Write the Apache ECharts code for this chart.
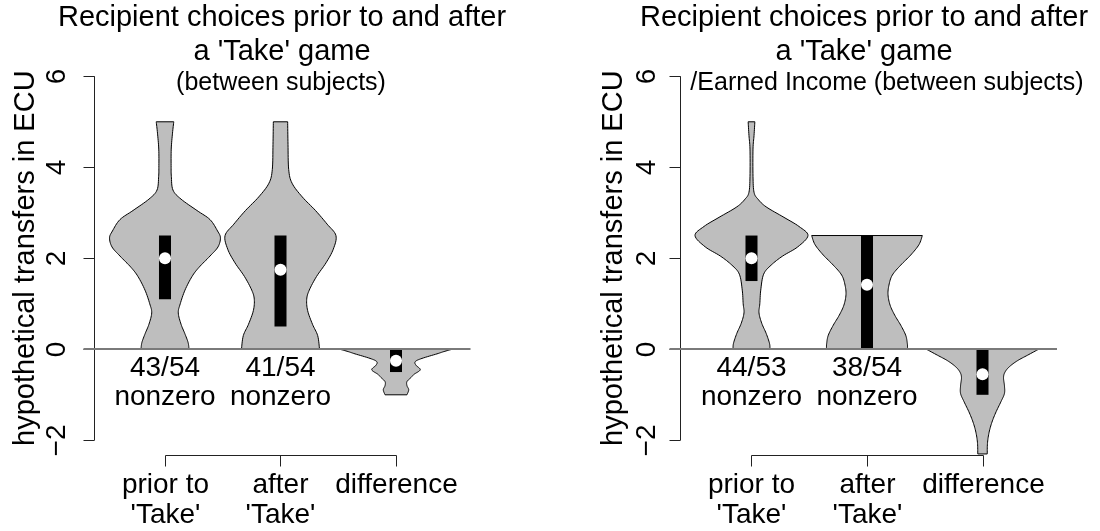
<!DOCTYPE html>
<html>
<head>
<meta charset="utf-8">
<script src="https://cdn.jsdelivr.net/npm/echarts@6/dist/echarts.min.js"></script>
<style>
html,body{margin:0;padding:0;background:#fff;}
#chart{width:1100px;height:531px;}
</style>
</head>
<body>
<div id="chart"></div>
<script>
// ---------- data ----------
const categories = ["prior to\n'Take'", "after\n'Take'", "difference"];
const categoryPos = [1, 2, 3];
const yTicks = [-2, 0, 2, 4, 6];
const yAxisTitle = "hypothetical transfers in ECU";
const panelTitles = ["Recipient choices prior to and after\na 'Take' game", "Recipient choices prior to and after\na 'Take' game"];
const panelSubtitles = ["(between subjects)", "/Earned Income (between subjects)"];
const leftNonzero = ["43/54\nnonzero", "41/54\nnonzero", ""];
const rightNonzero = ["44/53\nnonzero", "38/54\nnonzero", ""];

// violin outlines: y levels (top to bottom) and density half-widths (x units)
const leftPriorY = [5.0, 4.75, 4.4, 4.0, 3.8, 3.5, 3.3, 3.05, 2.85, 2.6, 2.45, 2.25, 2.05, 1.8, 1.6, 1.3, 1.0, 0.8, 0.55, 0.35, 0.15, 0.0];
const leftPriorW = [0.076, 0.065, 0.054, 0.053, 0.055, 0.069, 0.139, 0.277, 0.39, 0.455, 0.48, 0.459, 0.39, 0.294, 0.234, 0.173, 0.132, 0.115, 0.139, 0.171, 0.2, 0.208];
const leftAfterY = [5.0, 4.5, 3.95, 3.65, 3.35, 3.05, 2.75, 2.5, 2.2, 1.9, 1.6, 1.3, 1.1, 0.85, 0.55, 0.3, 0.0];
const leftAfterW = [0.062, 0.065, 0.071, 0.1, 0.188, 0.303, 0.404, 0.48, 0.457, 0.394, 0.312, 0.249, 0.227, 0.235, 0.277, 0.322, 0.338];
const leftDiffY = [0, -0.05, -0.1, -0.2, -0.27, -0.35, -0.45, -0.55, -0.62, -0.71, -0.8, -0.89, -1.0];
const leftDiffW = [0.485, 0.415, 0.355, 0.225, 0.167, 0.173, 0.21, 0.156, 0.13, 0.095, 0.095, 0.11, 0.095];
const rightPriorY = [5.0, 4.7, 4.4, 3.8, 3.45, 3.3, 3.13, 2.9, 2.7, 2.5, 2.25, 2.05, 1.85, 1.65, 1.3, 1.0, 0.8, 0.57, 0.35, 0.13, 0.0];
const rightPriorW = [0.029, 0.022, 0.013, 0.013, 0.022, 0.056, 0.127, 0.281, 0.411, 0.489, 0.40, 0.27, 0.17, 0.105, 0.08, 0.072, 0.065, 0.089, 0.127, 0.156, 0.16];
const rightAfterY = [2.5, 2.3, 2.07, 1.85, 1.63, 1.41, 1.2, 0.97, 0.75, 0.53, 0.31, 0.13, 0.0];
const rightAfterW = [0.479, 0.45, 0.378, 0.292, 0.219, 0.19, 0.182, 0.2, 0.24, 0.292, 0.335, 0.349, 0.351];
const rightDiffY = [0, -0.13, -0.25, -0.38, -0.5, -0.62, -0.8, -0.97, -1.15, -1.4, -1.63, -1.85, -2.07, -2.3];
const rightDiffW = [0.485, 0.39, 0.303, 0.234, 0.195, 0.182, 0.19, 0.19, 0.16, 0.113, 0.078, 0.055, 0.043, 0.041];

// box (25%-75%) and median
const leftBoxLow = [1.1, 0.5, -0.5];
const leftBoxHigh = [2.5, 2.5, 0];
const leftMedian = [2.0, 1.75, -0.25];
const rightBoxLow = [1.5, 0, -1.0];
const rightBoxHigh = [2.5, 2.5, 0];
const rightMedian = [2.0, 1.42, -0.55];

// ---------- drawing ----------
const FONT = "'Liberation Sans', Arial, Helvetica, sans-serif";
const X_MIN = 0.381, X_MAX = 3.645, Y_MIN = -2.323, Y_MAX = 6.327;

const panels = [
  { violinsY: [leftPriorY, leftAfterY, leftDiffY], violinsW: [leftPriorW, leftAfterW, leftDiffW],
    boxLow: leftBoxLow, boxHigh: leftBoxHigh, median: leftMedian, nonzero: leftNonzero,
    tickLabOff: 37.5, titleOff: 69, titleX: 282, subX: 281 },
  { violinsY: [rightPriorY, rightAfterY, rightDiffY], violinsW: [rightPriorW, rightAfterW, rightDiffW],
    boxLow: rightBoxLow, boxHigh: rightBoxHigh, median: rightMedian, nonzero: rightNonzero,
    tickLabOff: 33, titleOff: 67, titleX: 864, subX: 887 }
];

function catmull(pts, n) {
  const out = [];
  for (let i = 0; i < pts.length - 1; i++) {
    const p0 = pts[Math.max(i - 1, 0)], p1 = pts[i], p2 = pts[i + 1], p3 = pts[Math.min(i + 2, pts.length - 1)];
    for (let k = 0; k < n; k++) {
      const t = k / n, t2 = t * t, t3 = t2 * t;
      const f = (a, b, c, d) => 0.5 * (2 * b + (-a + c) * t + (2 * a - 5 * b + 4 * c - d) * t2 + (-a + 3 * b - 3 * c + d) * t3);
      out.push([f(p0[0], p1[0], p2[0], p3[0]), f(p0[1], p1[1], p2[1], p3[1])]);
    }
  }
  out.push(pts[pts.length - 1]);
  return out;
}

function violinRender(p) {
  const P = panels[p];
  return function (params, api) {
    const i = params.dataIndex;
    const x = api.value(0);
    const ys = P.violinsY[i], ws = P.violinsW[i];
    const right = ys.map((y, k) => api.coord([x + ws[k], y]));
    const left = ys.map((y, k) => api.coord([x - ws[k], y]));
    const rs = catmull(right, 8);
    const ls = catmull(left, 8).reverse();
    const poly = rs.concat(ls);
    const bw = 0.052;
    const b1 = api.coord([x - bw, P.boxHigh[i]]);
    const b2 = api.coord([x + bw, P.boxLow[i]]);
    const m = api.coord([x, P.median[i]]);
    return {
      type: 'group',
      children: [
        { type: 'polygon', shape: { points: poly }, style: { fill: '#bebebe', stroke: '#000', lineWidth: 1 } },
        { type: 'rect', shape: { x: b1[0], y: b1[1], width: b2[0] - b1[0], height: b2[1] - b1[1] }, style: { fill: '#000' } },
        { type: 'circle', shape: { cx: m[0], cy: m[1], r: 6 }, style: { fill: '#fff' } }
      ]
    };
  };
}

function axesRender(p) {
  const P = panels[p];
  return function (params, api) {
    const ch = [];
    const ax = Math.round(api.coord([X_MIN, 0])[0]) + 0.5;
    const yTop = api.coord([X_MIN, yTicks[yTicks.length - 1]])[1];
    const yBot = api.coord([X_MIN, yTicks[0]])[1];
    const lineStyle = { stroke: '#222', lineWidth: 1 };
    ch.push({ type: 'line', shape: { x1: ax, y1: yTop, x2: ax, y2: yBot }, style: lineStyle });
    yTicks.forEach(v => {
      const y = Math.round(api.coord([X_MIN, v])[1]) + 0.5;
      ch.push({ type: 'line', shape: { x1: ax - 11, y1: y, x2: ax, y2: y }, style: lineStyle });
      ch.push({ type: 'text', x: ax - P.tickLabOff, y: y, rotation: Math.PI / 2,
        style: { text: String(v).replace('-', '\u2212'), fill: '#000', font: '28px ' + FONT, align: 'center', verticalAlign: 'middle' } });
    });
    const yMid = (api.coord([X_MIN, Y_MIN])[1] + api.coord([X_MIN, Y_MAX])[1]) / 2;
    ch.push({ type: 'text', x: ax - P.titleOff, y: yMid, rotation: Math.PI / 2,
      style: { text: yAxisTitle, fill: '#000', font: '29px ' + FONT, align: 'center', verticalAlign: 'middle' } });
    // x bracket axis
    const by = Math.round(api.coord([X_MIN, Y_MIN])[1]) + 0.5;
    const xa = Math.round(api.coord([categoryPos[0], 0])[0]) + 0.5;
    const xb = Math.round(api.coord([categoryPos[categoryPos.length - 1], 0])[0]) + 0.5;
    ch.push({ type: 'line', shape: { x1: xa, y1: by, x2: xb, y2: by }, style: lineStyle });
    categoryPos.forEach((c, k) => {
      const cx = Math.round(api.coord([c, 0])[0]) + 0.5;
      ch.push({ type: 'line', shape: { x1: cx, y1: by, x2: cx, y2: by + 11 }, style: lineStyle });
      categories[k].split('\n').forEach((t, j) => {
        ch.push({ type: 'text', x: cx, y: by + 30 + 30 * j,
          style: { text: t, fill: '#000', font: '28px ' + FONT, align: 'center', verticalAlign: 'middle' } });
      });
      const z = api.coord([c, 0]);
      P.nonzero[k].split('\n').forEach((t, j) => {
        if (!t) return;
        ch.push({ type: 'text', x: z[0], y: z[1] + 19 + 29 * j,
          style: { text: t, fill: '#000', font: '28px ' + FONT, align: 'center', verticalAlign: 'middle' } });
      });
    });
    // zero line
    const z0 = api.coord([X_MIN, 0]);
    const z1 = api.coord([X_MAX, 0]);
    ch.push({ type: 'line', shape: { x1: ax - 11, y1: Math.round(z0[1]), x2: z1[0], y2: Math.round(z0[1]) }, style: { stroke: '#7a7a7a', lineWidth: 2 } });
    return { type: 'group', children: ch };
  };
}

const chart = echarts.init(document.getElementById('chart'), null, { renderer: 'canvas', width: 1100, height: 531 });

const grids = [
  { left: 93.5, top: 61.4, width: 377, height: 393.6 },
  { left: 680, top: 61.4, width: 377, height: 393.6 }
];

const series = [];
[0, 1].forEach(p => {
  series.push({
    type: 'custom', xAxisIndex: p, yAxisIndex: p, clip: false, silent: true,
    data: categoryPos.map(c => [c]), renderItem: violinRender(p), z: 2
  });
  series.push({
    type: 'custom', xAxisIndex: p, yAxisIndex: p, clip: false, silent: true,
    data: [[1]], renderItem: axesRender(p), z: 3
  });
});

const graphic = [];
panels.forEach((P, p) => {
  panelTitles[p].split('\n').forEach((t, j) => {
    graphic.push({ type: 'text', x: P.titleX, y: 18.3 + 33.2 * j,
      style: { text: t, fill: '#000', font: '29px ' + FONT, align: 'center', verticalAlign: 'middle' } });
  });
  graphic.push({ type: 'text', x: P.subX, y: 82.7,
    style: { text: panelSubtitles[p], fill: '#000', font: '25px ' + FONT, align: 'center', verticalAlign: 'middle' } });
});

chart.setOption({
  animation: false,
  backgroundColor: '#ffffff',
  grid: grids,
  xAxis: [0, 1].map(p => ({ gridIndex: p, type: 'value', min: X_MIN, max: X_MAX, show: false, splitLine: { show: false } })),
  yAxis: [0, 1].map(p => ({ gridIndex: p, type: 'value', min: Y_MIN, max: Y_MAX, show: false, splitLine: { show: false } })),
  graphic: graphic,
  series: series
});
</script>
</body>
</html>
